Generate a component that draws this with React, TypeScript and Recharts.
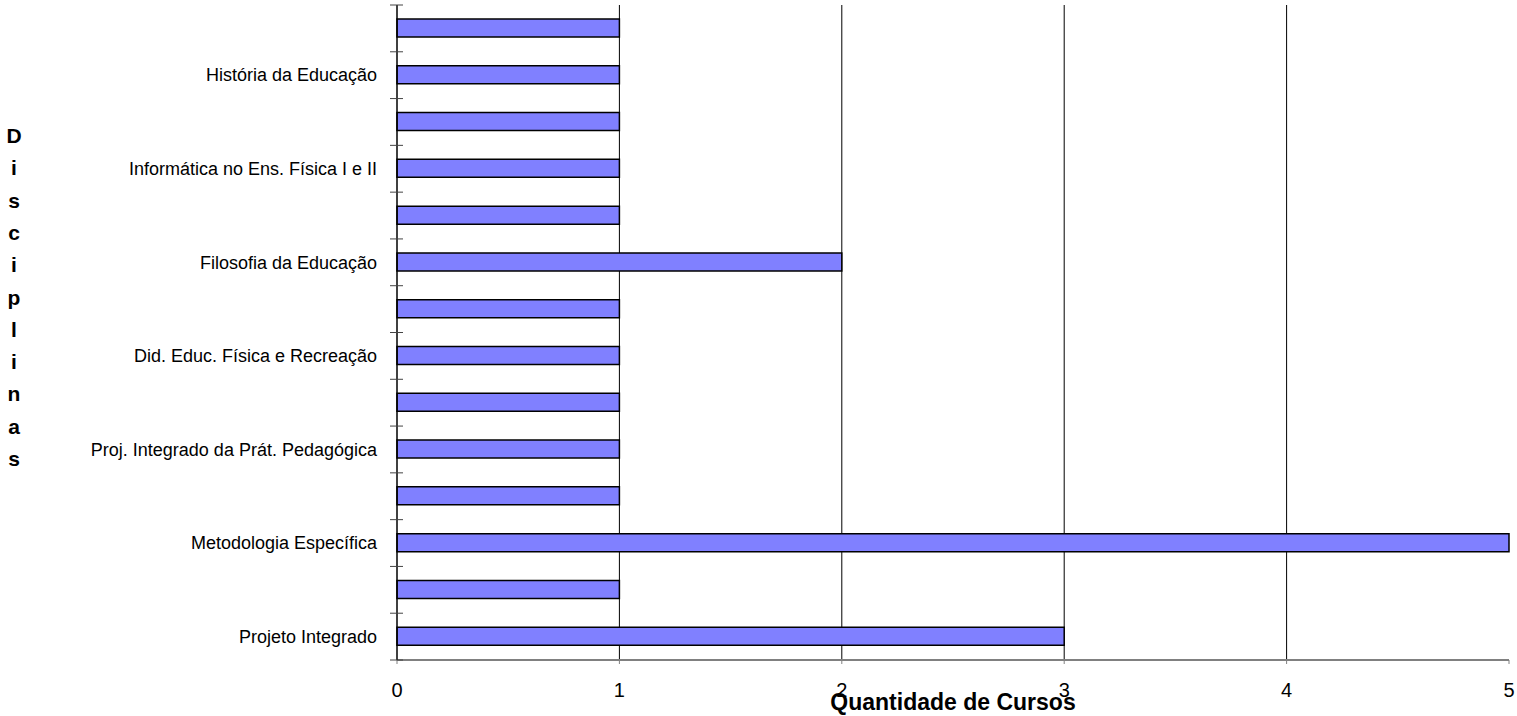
import { BarChart, Bar, XAxis, YAxis, CartesianGrid, Label } from 'recharts'

// disciplines, top to bottom; the chart only labels every other row
const disciplinas = [
  '',
  'História da Educação',
  '',
  'Informática no Ens. Física I e II',
  '',
  'Filosofia da Educação',
  '',
  'Did. Educ. Física e Recreação',
  '',
  'Proj. Integrado da Prát. Pedagógica',
  '',
  'Metodologia Específica',
  '',
  'Projeto Integrado',
]
const cursos = [1, 1, 1, 1, 1, 2, 1, 1, 1, 1, 1, 5, 1, 3]
const xTicks = [0, 1, 2, 3, 4, 5]
const gridValues = [1, 2, 3, 4]

const data = disciplinas.map((name, i) => ({ name, cursos: cursos[i] }))

const WIDTH = 1517
const HEIGHT = 716
const MARGIN = { top: 5, right: 8, left: 0, bottom: 0 }
const X_AXIS_HEIGHT = 56
const Y_AXIS_WIDTH = 397
const FONT = '"Liberation Sans", Arial, sans-serif'

const plotHeight = HEIGHT - MARGIN.top - MARGIN.bottom - X_AXIS_HEIGHT
const band = plotHeight / disciplinas.length

// category tick: label at the row centre, tick marks on the row boundaries
function DisciplinaTick(props: any) {
  const { x, y, payload, index } = props
  return (
    <g>
      {payload.value ? (
        <text
          x={x - 20}
          y={y}
          dy="0.35em"
          textAnchor="end"
          fontSize={18}
          fontFamily={FONT}
          fill="#000"
        >
          {payload.value}
        </text>
      ) : null}
      {index === 0 ? (
        <line x1={x - 7} x2={x + 6} y1={y - band / 2} y2={y - band / 2} stroke="#444" />
      ) : null}
      <line x1={x - 7} x2={x + 6} y1={y + band / 2} y2={y + band / 2} stroke="#444" />
    </g>
  )
}

// axis title written one letter per line
function VerticalTitle() {
  const letters = 'Disciplinas'.split('')
  return (
    <text x={14} y={143} textAnchor="middle" fontSize={21} fontWeight="bold" fontFamily={FONT} fill="#000">
      {letters.map((ch, i) => (
        <tspan key={i} x={14} dy={i === 0 ? 0 : 32.3}>
          {ch}
        </tspan>
      ))}
    </text>
  )
}

export default function App() {
  return (
    <div style={{ position: 'absolute', left: 0, top: 0, background: '#fff' }}>
      <BarChart
        width={WIDTH}
        height={HEIGHT}
        data={data}
        layout="vertical"
        margin={MARGIN}
        barCategoryGap={0}
      >
        <CartesianGrid
          horizontal={false}
          verticalValues={gridValues}
          stroke="#000"
          strokeWidth={1}
        />
        <XAxis
          type="number"
          domain={[0, 5]}
          ticks={xTicks}
          height={X_AXIS_HEIGHT}
          axisLine={{ stroke: '#808080', strokeWidth: 2 }}
          tickLine={{ stroke: '#808080' }}
          tickSize={4}
          tickMargin={19}
          tick={{ fontSize: 20, fill: '#000', fontFamily: FONT }}
        >
          <Label
            value="Quantidade de Cursos"
            position="insideBottom"
            offset={6}
            style={{ fontSize: 23, fontWeight: 'bold', fill: '#000', fontFamily: FONT }}
          />
        </XAxis>
        <YAxis
          type="category"
          dataKey="name"
          width={Y_AXIS_WIDTH}
          interval={0}
          axisLine={{ stroke: '#000', strokeWidth: 1.5 }}
          tickLine={false}
          tickSize={0}
          tickMargin={0}
          tick={<DisciplinaTick />}
          label={<VerticalTitle />}
        />
        <Bar
          dataKey="cursos"
          fill="#8080FF"
          stroke="#000"
          strokeWidth={1.5}
          barSize={18}
          isAnimationActive={false}
        />
      </BarChart>
    </div>
  )
}
